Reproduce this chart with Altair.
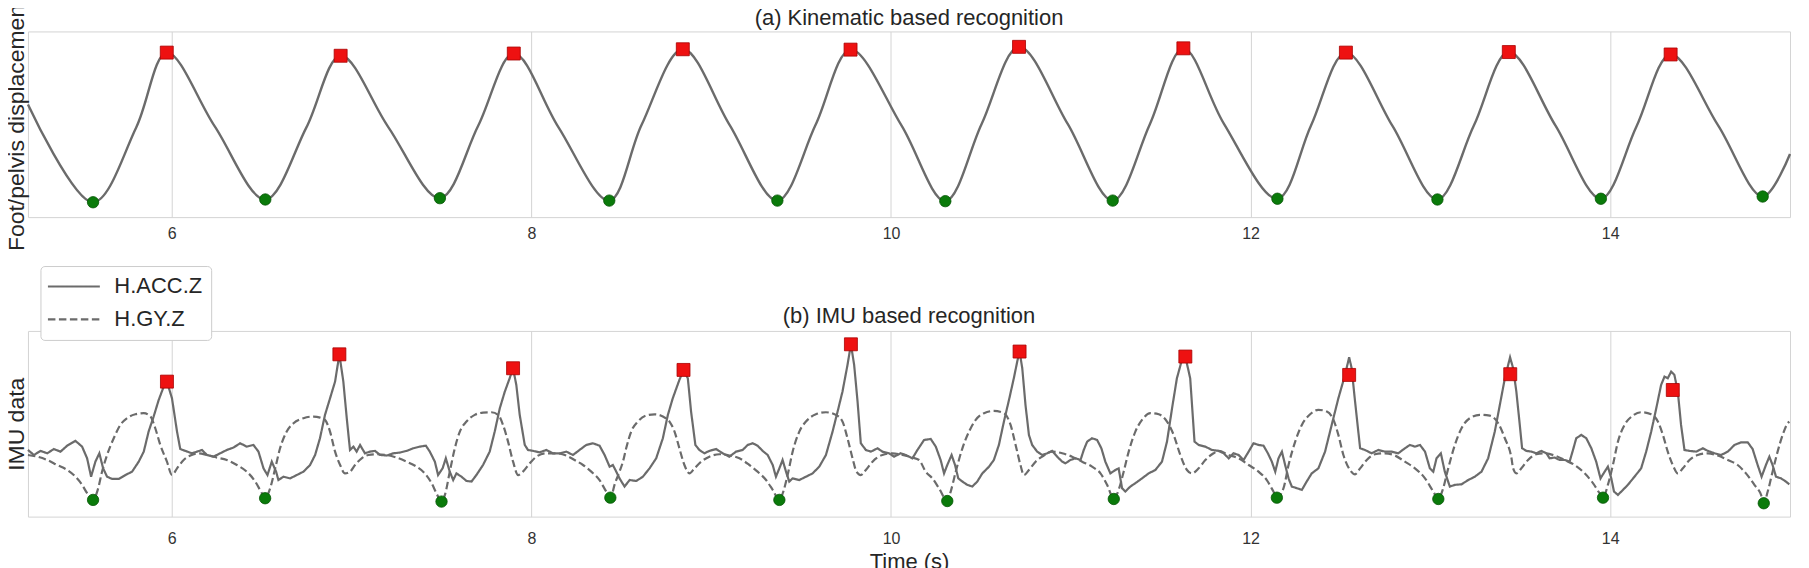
import altair as alt
import pandas as pd

FONT = "Liberation Sans"
GRAY = "#6b6b6b"
FRAME = "#d4d4d4"
TXT = "#262626"
RED = "#ee1111"
GREEN = "#0a7a0a"

# ---------------- panel (a): kinematic signal ----------------
kin_t = [5.200, 5.562, 5.802, 5.972, 6.238, 6.520, 6.748, 6.939, 7.204, 7.491,
         7.704, 7.902, 8.150, 8.433, 8.613, 8.842, 9.102, 9.368, 9.580, 9.775,
         10.058, 10.302, 10.504, 10.712, 10.982, 11.233, 11.439, 11.626, 11.851, 12.149,
         12.336, 12.530, 12.789, 13.039, 13.241, 13.436, 13.695, 13.948, 14.146, 14.336,
         14.600, 14.848, 15.000]
kin_v = [60.7, 8.0, 48.3, 88.6, 49.0, 9.5, 48.2, 86.9, 48.5, 10.2,
         49.2, 88.1, 48.5, 8.9, 49.7, 90.4, 49.7, 8.9, 49.6, 90.2,
         49.4, 8.6, 50.2, 91.7, 50.3, 8.9, 49.9, 90.9, 50.4, 9.9,
         49.3, 88.6, 49.1, 9.5, 49.2, 88.9, 49.4, 9.9, 48.8, 87.6,
         49.4, 11.1, 34.0]
kin_peak_t = [5.972, 6.939, 7.902, 8.842, 9.775, 10.712, 11.626, 12.530, 13.436, 14.336]
kin_peak_v = [88.6, 86.9, 88.1, 90.4, 90.2, 91.7, 90.9, 88.6, 88.9, 87.6]
kin_valley_t = [5.562, 6.520, 7.491, 8.433, 9.368, 10.302, 11.233, 12.149, 13.039, 13.948, 14.848]
kin_valley_v = [8.0, 9.5, 10.2, 8.9, 8.9, 8.6, 8.9, 9.9, 9.5, 9.9, 11.1]

# ---------------- panel (b): IMU signals ----------------
acc_samples = [
    (5.200, 35.9), (5.233, 33.2), (5.270, 35.4), (5.307, 34.1), (5.344, 36.4), (5.381, 35.0),
    (5.418, 38.2), (5.464, 40.8), (5.501, 37.7), (5.529, 31.4), (5.551, 21.5), (5.575, 29.6),
    (5.597, 34.1), (5.618, 26.0), (5.640, 21.5), (5.668, 20.3), (5.705, 20.3), (5.742, 22.4),
    (5.779, 24.2), (5.816, 29.6), (5.844, 35.0), (5.871, 45.8), (5.899, 53.9), (5.927, 62.8),
    (5.955, 70.0), (5.973, 72.7), (6.001, 63.7), (6.029, 45.8), (6.047, 36.4), (6.075, 35.4),
    (6.112, 34.1), (6.140, 35.0), (6.168, 35.9), (6.195, 33.2), (6.232, 32.3), (6.269, 34.1),
    (6.306, 35.9), (6.343, 37.2), (6.380, 39.5), (6.417, 37.7), (6.454, 38.6), (6.482, 35.0),
    (6.510, 26.0), (6.532, 22.4), (6.556, 29.6), (6.580, 24.2), (6.593, 19.7), (6.621, 21.5),
    (6.658, 20.6), (6.695, 22.4), (6.732, 24.2), (6.769, 27.8), (6.797, 33.2), (6.824, 42.2),
    (6.852, 54.8), (6.880, 63.7), (6.908, 72.7), (6.932, 87.4), (6.954, 72.7), (6.973, 53.0),
    (6.991, 35.9), (7.010, 37.7), (7.028, 35.0), (7.047, 38.6), (7.074, 34.1), (7.102, 35.0),
    (7.130, 35.4), (7.158, 33.2), (7.195, 32.9), (7.232, 34.1), (7.269, 34.5), (7.306, 35.4),
    (7.343, 36.8), (7.380, 37.7), (7.413, 38.2), (7.435, 35.0), (7.463, 29.6), (7.481, 22.4),
    (7.506, 26.0), (7.524, 31.4), (7.546, 24.2), (7.565, 19.7), (7.583, 23.3), (7.611, 21.5),
    (7.639, 19.2), (7.667, 18.9), (7.694, 22.4), (7.731, 27.8), (7.768, 35.0), (7.796, 45.8),
    (7.824, 58.3), (7.852, 67.3), (7.879, 74.5), (7.898, 79.9), (7.916, 70.9), (7.935, 54.8),
    (7.963, 38.6), (7.981, 35.9), (8.009, 35.4), (8.046, 34.6), (8.083, 35.9), (8.120, 34.1),
    (8.157, 34.1), (8.194, 35.0), (8.231, 33.2), (8.268, 35.9), (8.305, 38.6), (8.342, 39.5),
    (8.379, 38.2), (8.407, 33.2), (8.435, 26.9), (8.453, 27.8), (8.472, 24.2), (8.490, 20.6),
    (8.518, 16.2), (8.546, 19.7), (8.583, 19.2), (8.620, 21.5), (8.657, 26.0), (8.694, 31.4),
    (8.731, 42.2), (8.759, 54.8), (8.786, 63.7), (8.823, 73.6), (8.846, 79.0), (8.870, 74.5),
    (8.888, 56.6), (8.912, 38.6), (8.934, 35.9), (8.962, 34.1), (8.990, 35.4), (9.027, 36.4),
    (9.064, 34.1), (9.101, 32.3), (9.138, 35.0), (9.175, 35.9), (9.203, 38.6), (9.231, 39.5),
    (9.258, 38.2), (9.286, 35.4), (9.314, 33.2), (9.342, 27.8), (9.360, 21.5), (9.379, 26.0),
    (9.397, 30.5), (9.416, 24.2), (9.434, 18.9), (9.453, 20.6), (9.490, 19.7), (9.527, 21.5),
    (9.564, 23.3), (9.601, 26.9), (9.638, 33.2), (9.675, 45.8), (9.703, 56.6), (9.730, 67.3),
    (9.758, 81.7), (9.777, 92.8), (9.795, 81.7), (9.814, 61.9), (9.832, 39.5), (9.860, 35.9),
    (9.888, 35.0), (9.925, 36.8), (9.952, 35.0), (9.989, 34.1), (10.017, 32.3), (10.054, 34.1),
    (10.082, 33.2), (10.119, 31.4), (10.147, 35.9), (10.184, 41.3), (10.221, 41.8), (10.249, 37.7),
    (10.276, 30.5), (10.295, 23.3), (10.313, 27.8), (10.337, 33.2), (10.356, 27.8), (10.374, 20.6),
    (10.397, 18.9), (10.424, 17.1), (10.452, 16.2), (10.480, 18.9), (10.508, 23.3), (10.545, 26.9),
    (10.572, 30.5), (10.600, 38.6), (10.628, 51.2), (10.656, 62.8), (10.683, 74.5), (10.702, 83.5),
    (10.715, 88.9), (10.730, 79.9), (10.748, 60.1), (10.767, 44.0), (10.785, 38.6), (10.813, 35.0),
    (10.841, 33.2), (10.869, 34.1), (10.896, 35.4), (10.924, 32.3), (10.952, 29.6), (10.970, 28.7),
    (10.998, 30.5), (11.026, 31.4), (11.054, 30.5), (11.072, 35.9), (11.091, 40.4), (11.118, 42.2),
    (11.146, 41.3), (11.170, 36.8), (11.192, 29.6), (11.220, 23.3), (11.248, 25.1), (11.266, 26.0),
    (11.285, 15.3), (11.303, 13.5), (11.331, 16.2), (11.359, 18.0), (11.396, 20.6), (11.433, 23.3),
    (11.470, 25.1), (11.507, 29.6), (11.535, 40.4), (11.563, 58.3), (11.590, 74.5), (11.618, 84.4),
    (11.637, 86.2), (11.664, 74.5), (11.688, 40.4), (11.711, 38.6), (11.748, 37.7), (11.785, 35.9),
    (11.822, 35.4), (11.850, 34.1), (11.878, 31.4), (11.905, 34.1), (11.933, 33.2), (11.961, 30.5),
    (11.989, 35.0), (12.016, 39.5), (12.044, 38.6), (12.072, 38.2), (12.096, 34.1), (12.118, 29.6),
    (12.137, 24.2), (12.155, 31.4), (12.174, 35.0), (12.192, 27.8), (12.211, 20.6), (12.229, 16.2),
    (12.257, 15.3), (12.285, 14.4), (12.312, 18.9), (12.340, 23.3), (12.377, 26.0), (12.414, 35.0),
    (12.451, 49.4), (12.488, 63.7), (12.525, 76.3), (12.548, 85.8), (12.562, 79.9), (12.581, 61.9),
    (12.609, 36.8), (12.636, 35.9), (12.673, 34.1), (12.710, 35.9), (12.747, 35.0), (12.784, 35.0),
    (12.821, 34.1), (12.858, 36.8), (12.886, 38.6), (12.914, 37.7), (12.942, 38.6), (12.970, 35.0),
    (12.997, 26.0), (13.016, 24.2), (13.034, 31.4), (13.058, 34.1), (13.080, 24.2), (13.108, 16.2),
    (13.136, 17.1), (13.173, 17.4), (13.210, 19.7), (13.247, 21.5), (13.284, 24.2), (13.321, 31.4),
    (13.358, 45.8), (13.386, 60.1), (13.414, 74.5), (13.443, 85.8), (13.460, 79.9), (13.478, 67.3),
    (13.497, 49.4), (13.510, 36.8), (13.534, 35.4), (13.562, 35.0), (13.589, 34.1), (13.617, 35.4),
    (13.645, 34.1), (13.663, 31.4), (13.691, 31.8), (13.719, 30.5), (13.747, 30.5), (13.774, 29.6),
    (13.793, 35.9), (13.811, 42.2), (13.839, 44.0), (13.867, 42.2), (13.895, 36.8), (13.922, 29.6),
    (13.946, 20.6), (13.969, 24.2), (13.987, 26.9), (14.006, 20.6), (14.021, 13.5), (14.043, 11.7),
    (14.071, 14.4), (14.098, 17.1), (14.135, 21.5), (14.172, 26.0), (14.200, 35.0), (14.228, 45.8),
    (14.256, 58.3), (14.283, 70.9), (14.302, 75.4), (14.320, 74.5), (14.339, 78.1), (14.357, 76.3),
    (14.376, 67.3), (14.394, 49.4), (14.413, 35.9), (14.441, 35.4), (14.478, 35.0), (14.515, 36.8),
    (14.543, 35.4), (14.580, 34.1), (14.617, 33.2), (14.654, 35.0), (14.691, 38.6), (14.728, 40.0),
    (14.765, 40.0), (14.792, 36.4), (14.820, 27.8), (14.842, 21.5), (14.866, 27.8), (14.885, 32.3),
    (14.903, 27.8), (14.922, 21.5), (14.950, 20.6), (14.977, 18.9), (14.996, 17.4),
]

gy_samples = [
    (5.200, 33.2), (5.251, 32.3), (5.307, 30.5), (5.362, 27.8), (5.418, 25.1), (5.464, 21.5),
    (5.501, 17.1), (5.529, 12.6), (5.562, 9.0), (5.588, 14.4), (5.612, 24.2), (5.640, 33.2),
    (5.677, 42.2), (5.714, 49.4), (5.751, 53.0), (5.797, 55.1), (5.844, 55.7), (5.881, 53.9),
    (5.908, 47.6), (5.936, 38.6), (5.973, 29.6), (6.001, 22.4), (6.029, 26.0), (6.066, 30.5),
    (6.103, 32.9), (6.149, 34.1), (6.195, 33.2), (6.251, 31.8), (6.306, 30.5), (6.362, 27.8),
    (6.417, 24.2), (6.464, 18.9), (6.501, 12.6), (6.519, 9.9), (6.547, 15.3), (6.575, 26.0),
    (6.602, 36.8), (6.639, 45.8), (6.677, 50.3), (6.732, 53.0), (6.788, 53.9), (6.825, 53.3),
    (6.852, 52.1), (6.880, 45.8), (6.908, 35.0), (6.936, 27.8), (6.963, 23.3), (6.991, 24.2),
    (7.019, 27.8), (7.056, 31.4), (7.093, 33.2), (7.139, 33.6), (7.195, 33.2), (7.250, 31.8),
    (7.306, 29.6), (7.361, 26.9), (7.407, 23.3), (7.445, 18.0), (7.476, 11.7), (7.500, 8.1),
    (7.519, 11.7), (7.546, 24.2), (7.574, 36.8), (7.602, 45.8), (7.639, 51.2), (7.685, 54.8),
    (7.731, 56.0), (7.778, 56.2), (7.815, 54.8), (7.842, 49.4), (7.870, 40.4), (7.898, 29.6),
    (7.926, 22.4), (7.953, 24.2), (7.991, 28.7), (8.028, 32.3), (8.083, 34.1), (8.139, 34.1),
    (8.194, 32.9), (8.240, 30.5), (8.287, 27.8), (8.333, 24.2), (8.379, 19.7), (8.416, 13.5),
    (8.439, 10.2), (8.465, 18.0), (8.490, 24.2), (8.509, 29.6), (8.527, 36.8), (8.555, 45.8),
    (8.592, 51.2), (8.638, 54.4), (8.685, 55.1), (8.731, 53.9), (8.768, 51.2), (8.796, 45.8),
    (8.823, 36.8), (8.851, 27.8), (8.879, 23.3), (8.907, 26.0), (8.944, 29.6), (8.990, 32.3),
    (9.046, 33.6), (9.101, 32.9), (9.157, 31.4), (9.212, 27.8), (9.258, 24.2), (9.305, 19.7),
    (9.342, 14.4), (9.379, 9.0), (9.401, 13.5), (9.425, 22.4), (9.453, 35.0), (9.490, 45.8),
    (9.527, 51.2), (9.582, 55.1), (9.638, 56.2), (9.693, 54.8), (9.730, 51.2), (9.758, 42.2),
    (9.786, 31.4), (9.808, 24.2), (9.832, 22.4), (9.860, 25.1), (9.897, 29.6), (9.952, 33.2),
    (10.008, 34.1), (10.064, 33.2), (10.119, 31.8), (10.156, 30.5), (10.193, 24.2), (10.230, 20.6),
    (10.267, 15.3), (10.313, 8.4), (10.332, 13.5), (10.360, 24.2), (10.397, 36.8), (10.434, 45.8),
    (10.471, 52.1), (10.517, 55.7), (10.572, 56.9), (10.628, 55.7), (10.665, 49.4), (10.693, 38.6),
    (10.720, 27.8), (10.739, 22.4), (10.767, 25.1), (10.804, 29.6), (10.850, 32.9), (10.896, 35.0),
    (10.952, 34.1), (11.007, 32.3), (11.063, 29.6), (11.118, 26.9), (11.165, 23.3), (11.202, 17.1),
    (11.239, 9.5), (11.266, 14.4), (11.294, 24.2), (11.322, 35.0), (11.359, 45.8), (11.396, 52.1),
    (11.442, 55.7), (11.489, 55.1), (11.535, 51.2), (11.572, 44.0), (11.609, 33.2), (11.646, 25.1),
    (11.674, 23.3), (11.711, 26.0), (11.748, 30.5), (11.794, 34.1), (11.822, 35.4), (11.878, 33.2),
    (11.933, 31.4), (11.989, 27.8), (12.044, 24.2), (12.090, 19.7), (12.127, 13.5), (12.146, 10.2),
    (12.183, 15.3), (12.211, 27.8), (12.248, 40.4), (12.285, 49.4), (12.331, 55.1), (12.377, 57.5),
    (12.424, 56.6), (12.461, 52.1), (12.488, 44.0), (12.516, 33.2), (12.553, 25.1), (12.581, 22.8),
    (12.609, 26.0), (12.646, 30.5), (12.692, 33.6), (12.747, 34.1), (12.803, 32.9), (12.858, 29.6),
    (12.914, 26.0), (12.970, 20.6), (13.016, 13.5), (13.044, 9.5), (13.071, 15.3), (13.099, 26.0),
    (13.136, 38.6), (13.173, 47.6), (13.219, 53.0), (13.275, 54.8), (13.330, 54.4), (13.377, 50.3),
    (13.414, 42.2), (13.451, 31.4), (13.460, 26.0), (13.478, 23.3), (13.506, 26.0), (13.543, 30.5),
    (13.589, 33.6), (13.636, 34.1), (13.691, 32.9), (13.747, 30.5), (13.802, 27.8), (13.858, 23.3),
    (13.904, 18.0), (13.941, 12.6), (13.960, 10.2), (13.987, 17.1), (14.015, 27.8), (14.043, 40.4),
    (14.080, 49.4), (14.126, 54.4), (14.172, 56.2), (14.228, 55.1), (14.265, 51.2), (14.293, 44.0),
    (14.320, 35.0), (14.348, 27.8), (14.376, 23.3), (14.404, 26.0), (14.441, 30.5), (14.487, 33.2),
    (14.543, 34.1), (14.598, 32.9), (14.654, 30.5), (14.709, 27.8), (14.755, 23.3), (14.802, 17.1),
    (14.839, 11.7), (14.854, 7.2), (14.876, 13.5), (14.903, 24.2), (14.931, 35.0), (14.959, 44.0),
    (14.987, 50.3), (14.996, 51.2),
]

imu_peak_t = [5.973, 6.932, 7.898, 8.846, 9.777, 10.715, 11.637, 12.548, 13.444, 14.348]
imu_peak_v = [72.7, 87.4, 79.9, 79.0, 92.8, 88.9, 86.2, 76.3, 76.7, 68.2]
imu_valley_t = [5.562, 6.519, 7.500, 8.439, 9.379, 10.313, 11.239, 12.146, 13.044, 13.960, 14.854]
imu_valley_v = [9.0, 9.9, 8.1, 10.2, 9.0, 8.4, 9.5, 10.2, 9.5, 10.2, 7.2]

tick_values = [6, 8, 10, 12, 14]
series_names = ["H.ACC.Z", "H.GY.Z"]
x_domain = [5.2, 15.0]

# ---------------- tables ----------------
kin_df = pd.DataFrame({"t": kin_t, "v": kin_v})
kin_peaks = pd.DataFrame({"t": kin_peak_t, "v": kin_peak_v})
kin_valleys = pd.DataFrame({"t": kin_valley_t, "v": kin_valley_v})
acc_df = pd.DataFrame(acc_samples, columns=["t", "v"]).assign(series=series_names[0])
gy_df = pd.DataFrame(gy_samples, columns=["t", "v"]).assign(series=series_names[1])
imu_peaks = pd.DataFrame({"t": imu_peak_t, "v": imu_peak_v})
imu_valleys = pd.DataFrame({"t": imu_valley_t, "v": imu_valley_v})

W, H = 1765, 186


def x_enc(title=None, label_pad=11):
    ax = dict(values=tick_values, labelFontSize=16, labelColor="#333333", labelFont=FONT,
              labelPadding=label_pad, ticks=False, tickSize=0, domain=False, grid=True,
              gridColor=FRAME, gridWidth=1, format="d")
    if title:
        ax.update(title=title, titleFontSize=22, titleFont=FONT, titleFontWeight="normal",
                  titleColor=TXT, titlePadding=5)
    else:
        ax.update(title=None)
    return alt.X("t:Q", scale=alt.Scale(domain=x_domain, nice=False, zero=False),
                 axis=alt.Axis(**ax))


def y_enc(title):
    return alt.Y("v:Q", scale=alt.Scale(domain=[0, 100], nice=False, zero=False),
                 axis=alt.Axis(title=title, labels=False, ticks=False, domain=False, grid=False,
                               titleFontSize=23, titleFont=FONT, titleFontWeight="normal",
                               titleColor=TXT, titlePadding=-1))


def squares(df, xe, ye):
    return alt.Chart(df).mark_square(size=169, color=RED, opacity=1, stroke="#a80000",
                                     strokeWidth=0.8).encode(x=xe, y=ye)


def circles(df, xe, ye):
    return alt.Chart(df).mark_circle(size=130, color=GREEN, opacity=1, stroke="#055505",
                                     strokeWidth=0.8).encode(x=xe, y=ye)


def panel_title(text, offset):
    return alt.TitleParams(text, fontSize=22, font=FONT, fontWeight="normal", color=TXT,
                           offset=offset, frame="group")


# ---- panel (a)
xa = x_enc(label_pad=8)
ya = y_enc("Foot/pelvis displacement")
top = alt.layer(
    alt.Chart(kin_df).mark_line(color=GRAY, strokeWidth=2.4, interpolate="catmull-rom").encode(x=xa, y=ya),
    squares(kin_peaks, xa, ya),
    circles(kin_valleys, xa, ya),
).properties(width=W, height=H, title=panel_title("(a) Kinematic based recognition", -32))

# ---- panel (b)
xb = x_enc("Time (s)", label_pad=14)
yb = y_enc("IMU data")
legend = alt.Legend(
    title=None, orient="none", legendX=12.5, legendY=235,
    symbolType="M-2.6,0L2.6,0", symbolSize=400, symbolOffset=13,
    symbolStrokeColor=GRAY, symbolStrokeWidth=2.2,
    labelOffset=29, labelFontSize=22, labelFont=FONT, labelColor=TXT,
    padding=9, rowPadding=10, fillColor="white", strokeColor="#cccccc", cornerRadius=4,
)
dash = alt.StrokeDash("series:N",
                      scale=alt.Scale(domain=series_names, range=[[1, 0], [7.5, 3.5]]),
                      legend=legend)
bottom = alt.layer(
    alt.Chart(gy_df).mark_line(color=GRAY, strokeWidth=2.2, interpolate="monotone").encode(
        x=xb, y=yb, strokeDash=dash),
    alt.Chart(acc_df).mark_line(color=GRAY, strokeWidth=2.2).encode(
        x=xb, y=yb, strokeDash=dash),
    squares(imu_peaks, xb, yb),
    circles(imu_valleys, xb, yb),
).properties(width=W, height=H, title=panel_title("(b) IMU based recognition", 3))

chart = alt.vconcat(top, bottom, spacing=114, bounds="flush").properties(
    padding={"left": -3, "top": -12, "right": 5, "bottom": 0},
    background="white",
).configure(font=FONT).configure_view(stroke=FRAME, strokeWidth=1)

chart.save("out.html", embed_options={"renderer": "svg", "actions": False})
